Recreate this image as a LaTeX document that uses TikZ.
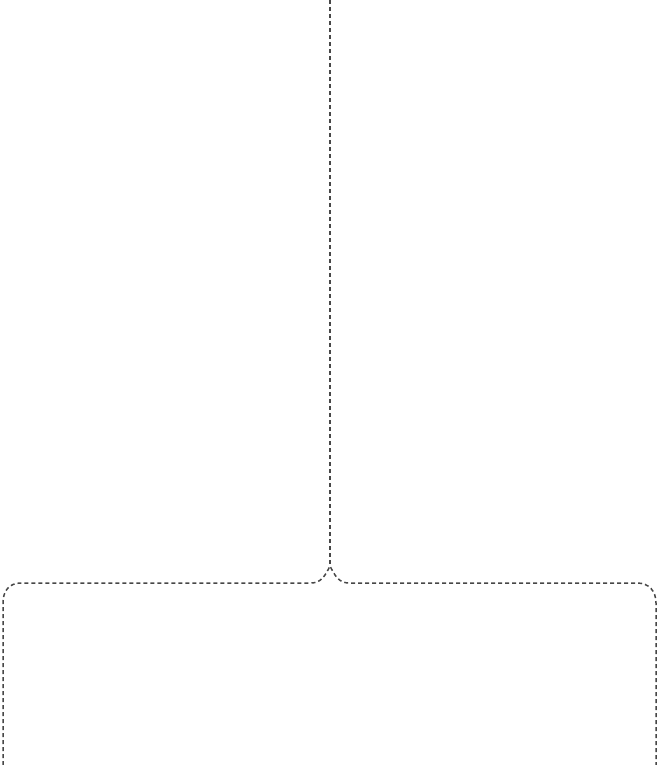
\documentclass[tikz,border=0pt]{standalone}
\begin{document}
\begin{tikzpicture}[x=1bp,y=-1bp,
  bracket/.style={draw=black!72, line width=1.5bp, dash pattern=on 4bp off 3bp}]
\useasboundingbox (0,0) rectangle (658,765);
\coordinate (top) at (330,0);
\coordinate (tip) at (330,566);
\coordinate (lend) at (3,765);
\coordinate (rend) at (656,765);
\draw[bracket] (top) -- (tip);
\draw[bracket] (lend) -- (3,603) .. controls (3,591) and (9,583) .. (21,583)
  -- (311,583) .. controls (321,583) and (325,576) .. (tip)
  .. controls (335,576) and (339,583) .. (349,583)
  -- (637,583) .. controls (649,583) and (656,591) .. (656,603) -- (rend);
\end{tikzpicture}
\end{document}
